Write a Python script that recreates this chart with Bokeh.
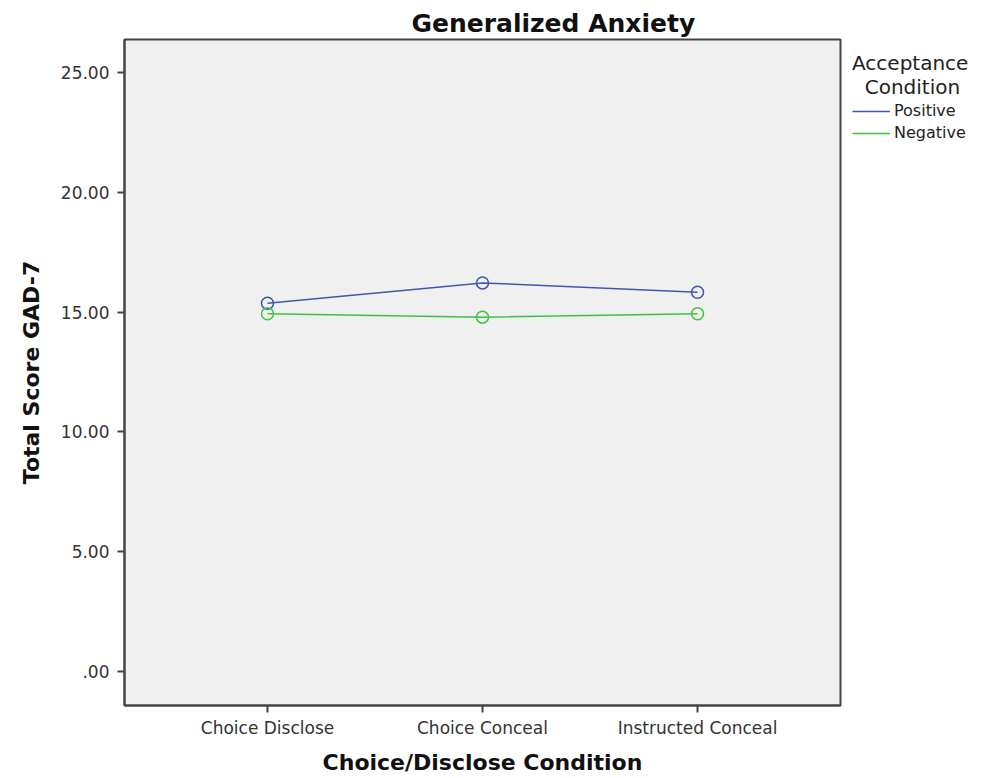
from bokeh.plotting import figure
from bokeh.models import FactorRange, Range1d, Legend, LegendItem, FixedTicker
from bokeh.embed import file_html
from bokeh.resources import INLINE

categories = ["Choice Disclose", "Choice Conceal", "Instructed Conceal"]
positive = [15.37, 16.22, 15.83]
negative = [14.93, 14.79, 14.93]
y_ticks = [0, 5, 10, 15, 20, 25]
y_tick_labels = [".00", "5.00", "10.00", "15.00", "20.00", "25.00"]

BLUE = "#3f56ad"
GREEN = "#41c041"
FONT = "DejaVu Sans"

p = figure(frame_width=716, frame_height=666, output_backend="svg", toolbar_location=None,
           x_range=FactorRange(factors=categories, range_padding=0.11, range_padding_units="percent"),
           y_range=Range1d(-1.42, 26.38),
           min_border_left=124, min_border_right=140, min_border_top=39, min_border_bottom=68)

p.border_fill_color = "white"
p.background_fill_color = "#f0f0f0"
p.outline_line_color = "#444444"
p.outline_line_width = 2
p.xgrid.visible = False
p.ygrid.visible = False

p.title.text = "Generalized Anxiety"
p.title.align = "left"
p.title.offset = 287
p.title.standoff = 4
p.title.text_font = FONT
p.title.text_font_style = "bold"
p.title.text_font_size = "25px"
p.title.text_color = "#111111"

r_pos_line = p.line(categories, positive, line_color=BLUE, line_width=1.5)
r_pos_pts = p.scatter(categories, positive, marker="circle", size=12, fill_color=None,
                      line_color=BLUE, line_width=1.5)
r_neg_line = p.line(categories, negative, line_color=GREEN, line_width=1.5)
r_neg_pts = p.scatter(categories, negative, marker="circle", size=12, fill_color=None,
                      line_color=GREEN, line_width=1.5)

# axes
p.yaxis.ticker = FixedTicker(ticks=y_ticks)
p.yaxis.major_label_overrides = {t: l for t, l in zip(y_ticks, y_tick_labels)}
for ax in (p.xaxis[0], p.yaxis[0]):
    ax.axis_line_color = "#444444"
    ax.axis_line_width = 2
    ax.major_tick_line_color = "#444444"
    ax.major_tick_line_width = 2
    ax.major_tick_in = 0
    ax.major_tick_out = 7
    ax.minor_tick_line_color = None
    ax.major_label_text_font = FONT
    ax.major_label_text_font_size = "17px"
    ax.major_label_text_color = "#333333"
    ax.axis_label_text_font = FONT
    ax.axis_label_text_font_style = "bold"
    ax.axis_label_text_font_size = "22px"
    ax.axis_label_text_color = "#111111"

p.yaxis.major_label_standoff = 8
p.xaxis.major_label_standoff = 5
p.xaxis.axis_label = "Choice/Disclose Condition"
p.yaxis.axis_label = "Total Score GAD-7"
p.xaxis.axis_label_standoff = 9
p.yaxis.axis_label_standoff = 14

legend = Legend(items=[LegendItem(label="Positive", renderers=[r_pos_line]),
                       LegendItem(label="Negative", renderers=[r_neg_line])],
                location="top_left", padding=0, margin=12, spacing=3,
                title="Acceptance\n  Condition", title_text_font=FONT, title_text_font_size="20px",
                title_text_font_style="normal", title_text_color="#222222",
                title_text_line_height=0.9, title_standoff=2,
                glyph_width=38, glyph_height=18, label_height=18, label_standoff=4,
                label_text_font=FONT, label_text_font_size="16px", label_text_color="#222222",
                border_line_color=None, background_fill_alpha=0)
p.add_layout(legend, "right")

open("out.html", "w").write(file_html(p, INLINE))
